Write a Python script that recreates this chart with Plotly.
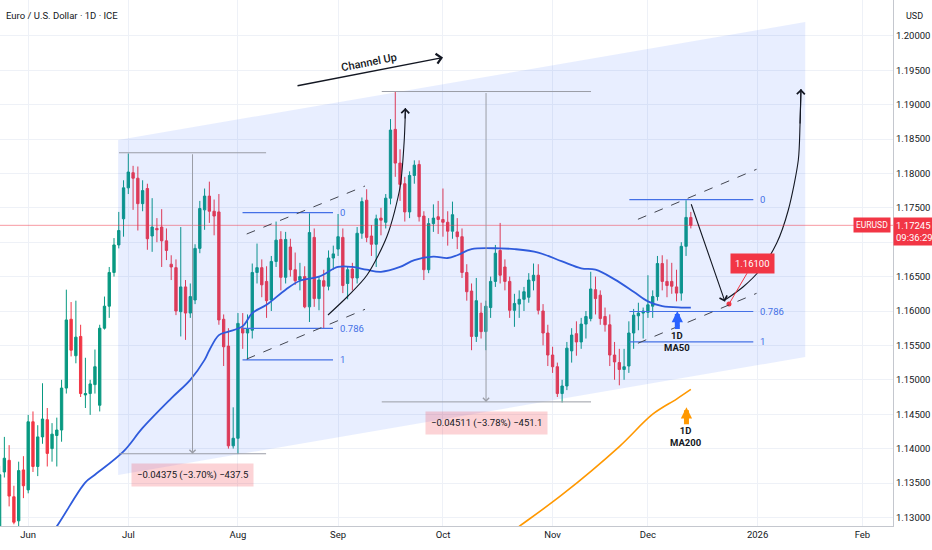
import plotly.graph_objects as go

# ---------------- data ----------------
dates = ["2025-05-23","2025-05-26","2025-05-27","2025-05-28","2025-05-29","2025-05-30",
         "2025-06-02","2025-06-03","2025-06-04","2025-06-05","2025-06-06","2025-06-09","2025-06-10",
         "2025-06-11","2025-06-12","2025-06-13","2025-06-16","2025-06-17","2025-06-18","2025-06-19",
         "2025-06-20","2025-06-23","2025-06-24","2025-06-25","2025-06-26","2025-06-27","2025-06-30",
         "2025-07-01","2025-07-02","2025-07-03","2025-07-04","2025-07-07","2025-07-08","2025-07-09",
         "2025-07-10","2025-07-11","2025-07-14","2025-07-15","2025-07-16","2025-07-17","2025-07-18",
         "2025-07-21","2025-07-22","2025-07-23","2025-07-24","2025-07-25","2025-07-28","2025-07-29",
         "2025-07-30","2025-07-31","2025-08-01","2025-08-04","2025-08-05","2025-08-06","2025-08-07",
         "2025-08-08","2025-08-11","2025-08-12","2025-08-13","2025-08-14","2025-08-15","2025-08-18",
         "2025-08-19","2025-08-20","2025-08-21","2025-08-22","2025-08-25","2025-08-26","2025-08-27",
         "2025-08-28","2025-08-29","2025-09-01","2025-09-02","2025-09-03","2025-09-04","2025-09-05",
         "2025-09-08","2025-09-09","2025-09-10","2025-09-11","2025-09-12","2025-09-15","2025-09-16",
         "2025-09-17","2025-09-18","2025-09-19","2025-09-22","2025-09-23","2025-09-24","2025-09-25",
         "2025-09-26","2025-09-29","2025-09-30","2025-10-01","2025-10-02","2025-10-03","2025-10-06",
         "2025-10-07","2025-10-08","2025-10-09","2025-10-10","2025-10-13","2025-10-14","2025-10-15",
         "2025-10-16","2025-10-17","2025-10-20","2025-10-21","2025-10-22","2025-10-23","2025-10-24",
         "2025-10-27","2025-10-28","2025-10-29","2025-10-30","2025-10-31","2025-11-03","2025-11-04",
         "2025-11-05","2025-11-06","2025-11-07","2025-11-10","2025-11-11","2025-11-12","2025-11-13",
         "2025-11-14","2025-11-17","2025-11-18","2025-11-19","2025-11-20","2025-11-21","2025-11-24",
         "2025-11-25","2025-11-26","2025-11-27","2025-11-28","2025-12-01","2025-12-02","2025-12-03",
         "2025-12-04","2025-12-05","2025-12-08","2025-12-09","2025-12-10","2025-12-11","2025-12-12"]

opens = [1.1280,1.1366,1.1383,1.1330,1.1295,1.1369,
         1.1340,1.1439,1.1374,1.1417,1.1442,1.1400,1.1419,
         1.1427,1.1488,1.1588,1.1535,1.1563,1.1478,1.1480,
         1.1493,1.1463,1.1575,1.1607,1.1656,1.1696,1.1734,
         1.1779,1.1801,1.1793,1.1756,1.1778,1.1709,1.1720,
         1.1722,1.1702,1.1668,1.1663,1.1599,1.1635,1.1597,
         1.1616,1.1691,1.1747,1.1767,1.1745,1.1744,1.1588,
         1.1549,1.1404,1.1415,1.1575,1.1568,1.1572,1.1656,
         1.1663,1.1643,1.1616,1.1672,1.1704,1.1649,1.1693,
         1.1660,1.1645,1.1650,1.1606,1.1707,1.1618,1.1644,
         1.1636,1.1677,1.1690,1.1707,1.1640,1.1661,1.1648,
         1.1713,1.1761,1.1709,1.1697,1.1735,1.1729,1.1764,
         1.1864,1.1815,1.1785,1.1744,1.1797,1.1813,1.1738,
         1.1660,1.1727,1.1737,1.1733,1.1729,1.1716,1.1715,
         1.1708,1.1656,1.1629,1.1563,1.1597,1.1570,1.1605,
         1.1643,1.1688,1.1664,1.1643,1.1601,1.1610,1.1617,
         1.1620,1.1644,1.1652,1.1600,1.1568,1.1536,1.1519,
         1.1480,1.1491,1.1542,1.1567,1.1555,1.1581,1.1589,
         1.1631,1.1623,1.1592,1.1580,1.1536,1.1525,1.1515,
         1.1520,1.1568,1.1593,1.1597,1.1598,1.1607,1.1621,
         1.1669,1.1643,1.1643,1.1635,1.1626,1.1694,1.1736]

highs = [1.1375,1.1417,1.1405,1.1346,1.1381,1.1389,
         1.1449,1.1454,1.1434,1.1495,1.1459,1.1437,1.1445,
         1.1500,1.1631,1.1613,1.1615,1.1580,1.1532,1.1500,
         1.1544,1.1580,1.1621,1.1664,1.1706,1.1744,1.1790,
         1.1829,1.1811,1.1810,1.1790,1.1785,1.1764,1.1735,
         1.1748,1.1720,1.1681,1.1675,1.1722,1.1645,1.1640,
         1.1697,1.1760,1.1778,1.1788,1.1762,1.1770,1.1595,
         1.1575,1.1460,1.1597,1.1597,1.1595,1.1669,1.1698,
         1.1675,1.1665,1.1680,1.1730,1.1716,1.1715,1.1705,
         1.1685,1.1670,1.1665,1.1742,1.1720,1.1650,1.1660,
         1.1688,1.1695,1.1741,1.1720,1.1665,1.1670,1.1722,
         1.1765,1.1777,1.1725,1.1740,1.1750,1.1770,1.1879,
         1.1919,1.1835,1.1795,1.1803,1.1819,1.1819,1.1745,
         1.1735,1.1755,1.1760,1.1778,1.1745,1.1759,1.1735,
         1.1720,1.1668,1.1640,1.1648,1.1612,1.1615,1.1650,
         1.1696,1.1728,1.1675,1.1650,1.1625,1.1630,1.1635,
         1.1655,1.1669,1.1668,1.1610,1.1580,1.1548,1.1525,
         1.1500,1.1555,1.1575,1.1585,1.1590,1.1600,1.1657,
         1.1650,1.1630,1.1605,1.1595,1.1555,1.1545,1.1545,
         1.1585,1.1603,1.1612,1.1605,1.1652,1.1630,1.1680,
         1.1681,1.1675,1.1670,1.1660,1.1700,1.1761,1.1744]

lows = [1.1272,1.1358,1.1316,1.1290,1.1211,1.1328,
        1.1335,1.1366,1.1360,1.1407,1.1374,1.1381,1.1374,
        1.1410,1.1480,1.1534,1.1524,1.1475,1.1459,1.1449,
        1.1480,1.1454,1.1573,1.1590,1.1650,1.1691,1.1708,
        1.1770,1.1747,1.1717,1.1745,1.1689,1.1686,1.1700,
        1.1664,1.1674,1.1645,1.1594,1.1563,1.1558,1.1590,
        1.1610,1.1684,1.1718,1.1728,1.1710,1.1580,1.1520,
        1.1400,1.1400,1.1392,1.1545,1.1529,1.1560,1.1640,
        1.1620,1.1590,1.1600,1.1664,1.1630,1.1640,1.1650,
        1.1638,1.1630,1.1604,1.1584,1.1606,1.1601,1.1575,
        1.1630,1.1660,1.1680,1.1626,1.1617,1.1630,1.1640,
        1.1705,1.1700,1.1680,1.1664,1.1710,1.1720,1.1755,
        1.1795,1.1760,1.1730,1.1735,1.1785,1.1730,1.1645,
        1.1655,1.1715,1.1712,1.1708,1.1695,1.1705,1.1690,
        1.1648,1.1615,1.1543,1.1555,1.1560,1.1543,1.1590,
        1.1635,1.1640,1.1630,1.1590,1.1577,1.1590,1.1600,
        1.1612,1.1630,1.1595,1.1550,1.1520,1.1510,1.1475,
        1.1467,1.1485,1.1525,1.1535,1.1545,1.1560,1.1585,
        1.1595,1.1580,1.1570,1.1520,1.1500,1.1492,1.1500,
        1.1510,1.1545,1.1572,1.1560,1.1590,1.1590,1.1615,
        1.1630,1.1620,1.1625,1.1614,1.1615,1.1680,1.1720]

closes = [1.1362,1.1386,1.1331,1.1293,1.1368,1.1346,
          1.1439,1.1374,1.1417,1.1443,1.1393,1.1421,1.1427,
          1.1488,1.1587,1.1543,1.1562,1.1480,1.1480,1.1494,
          1.1519,1.1575,1.1607,1.1656,1.1696,1.1717,1.1779,
          1.1802,1.1793,1.1756,1.1775,1.1705,1.1722,1.1718,
          1.1702,1.1688,1.1664,1.1600,1.1635,1.1597,1.1621,
          1.1691,1.1749,1.1767,1.1745,1.1738,1.1587,1.1548,
          1.1404,1.1415,1.1582,1.1568,1.1574,1.1656,1.1663,
          1.1638,1.1615,1.1672,1.1703,1.1649,1.1704,1.1660,
          1.1644,1.1650,1.1606,1.1714,1.1618,1.1645,1.1636,
          1.1677,1.1683,1.1708,1.1637,1.1660,1.1648,1.1713,
          1.1759,1.1707,1.1697,1.1734,1.1732,1.1764,1.1863,
          1.1815,1.1784,1.1744,1.1797,1.1812,1.1737,1.1660,
          1.1727,1.1735,1.1733,1.1729,1.1716,1.1740,1.1708,
          1.1656,1.1628,1.1563,1.1615,1.1570,1.1607,1.1643,
          1.1684,1.1652,1.1643,1.1601,1.1611,1.1617,1.1628,
          1.1645,1.1652,1.1601,1.1568,1.1536,1.1519,1.1480,
          1.1491,1.1546,1.1565,1.1555,1.1581,1.1592,1.1632,
          1.1618,1.1589,1.1580,1.1536,1.1526,1.1515,1.1519,
          1.1568,1.1594,1.1597,1.1600,1.1609,1.1621,1.1669,
          1.1643,1.1637,1.1636,1.1626,1.1694,1.1736,1.17245]

ma50_dates = ["2025-06-04","2025-06-10","2025-06-18","2025-06-20","2025-06-30","2025-07-04",
              "2025-07-14","2025-07-18","2025-07-23","2025-07-24","2025-07-28","2025-07-30",
              "2025-08-04","2025-08-06","2025-08-11","2025-08-15","2025-08-20","2025-08-26",
              "2025-09-01","2025-09-04","2025-09-09","2025-09-12","2025-09-18","2025-09-23",
              "2025-09-29","2025-10-02","2025-10-06","2025-10-09","2025-10-17","2025-10-22",
              "2025-10-29","2025-11-05","2025-11-11","2025-11-14","2025-11-20","2025-11-26",
              "2025-12-01","2025-12-04","2025-12-10","2025-12-12"]
ma50_values = [1.1250,1.1287,1.1351,1.1362,1.1396,1.1430,
               1.1473,1.1500,1.1529,1.1543,1.1565,1.1570,
               1.1578,1.1597,1.1609,1.1631,1.1644,1.1650,
               1.1664,1.1664,1.1660,1.1657,1.1664,1.1674,
               1.1679,1.1677,1.1681,1.1690,1.1691,1.1690,
               1.1685,1.1672,1.1662,1.1660,1.1646,1.1628,
               1.1614,1.1607,1.1605,1.1605]

ma200_dates = ["2025-10-20","2025-10-23","2025-11-05","2025-11-21","2025-12-02","2025-12-09","2025-12-12"]
ma200_values = [1.1272,1.1287,1.1333,1.1403,1.1450,1.1472,1.1486]

month_ticks = ["2025-06-02","2025-07-01","2025-08-01","2025-09-01","2025-10-01",
               "2025-11-03","2025-12-01","2026-01-01","2026-02-02"]
month_labels = ["Jun","Jul","Aug","Sep","Oct","Nov","Dec","2026","Feb"]
price_ticks = [1.130,1.135,1.140,1.145,1.150,1.155,1.160,1.165,
               1.170,1.175,1.180,1.185,1.190,1.195,1.200]
# the 1.17000 label sits under the live-price badge in the reference
price_labels = ["1.13000","1.13500","1.14000","1.14500","1.15000","1.15500","1.16000","1.16500",
                "","1.17500","1.18000","1.18500","1.19000","1.19500","1.20000"]

title_text = "Euro / U.S. Dollar · 1D · ICE"
symbol = "EURUSD"
last_price = 1.17245
countdown = "09:36:29"

# drawings (anchors in date / price)
channel_x = ["2025-06-26 20:40", "2026-01-15 00:00"]
channel_upper = [1.18486, 1.20201]
channel_lower = [1.13616, 1.15331]

measure_x0 = ["2025-06-27 01:00", "2025-09-12 04:00"]
measure_x1 = ["2025-08-08 21:36", "2025-11-13 01:30"]
measure_xmid = ["2025-07-18 11:15", "2025-10-14 01:00"]
measure_top = [1.18300, 1.19190]
measure_bottom = [1.13925, 1.14679]
measure_text = ["\u22120.04375 (\u22123.70%) \u2212437.5", "\u22120.04511 (\u22123.78%) \u2212451.1"]

fib_x0 = ["2025-08-01 23:00", "2025-11-25 02:30"]
fib_x1 = ["2025-08-28 22:30", "2025-12-31 02:30"]
fib_p0 = [1.1743, 1.1762]
fib_p1 = [1.1529, 1.1555]
fib_ratios = [0, 0.786, 1]

dash_x0 = ["2025-08-04 20:00", "2025-11-26 21:40"]
dash_x1 = ["2025-09-08 15:40", "2025-12-31 19:00"]
dash_up = [(1.17119, 1.17817), (1.17333, 1.18060)]
dash_lo = [(1.15302, 1.16025), (1.15531, 1.16257)]

curve1_x = ["2025-08-27 21:20","2025-09-03 02:10","2025-09-09 02:00","2025-09-15 06:45",
            "2025-09-18 00:15","2025-09-18 20:20","2025-09-19 01:30","2025-09-19 02:50"]
curve1_y = [1.15942,1.16218,1.16523,1.17090,1.17802,1.18442,1.18776,1.18951]
curve2_x = ["2025-12-23 09:00","2025-12-29 00:00","2026-01-01 12:00","2026-01-07 00:00",
            "2026-01-09 10:50","2026-01-13 13:10","2026-01-13 21:40","2026-01-14 02:30"]
curve2_y = [1.16170,1.16353,1.16596,1.16984,1.17468,1.18195,1.18703,1.19227]

drop_tail = ("2025-12-11 23:30", 1.17574)
drop_head = ("2025-12-23 04:00", 1.16135)
target_point = ("2025-12-24 00:00", 1.16100)
target_text = "1.16100"

channel_arrow_tail = ("2025-08-19 04:20", 1.19270)
channel_arrow_head = ("2025-10-01 00:30", 1.19685)
channel_label = ("2025-09-09 12:00", 1.19605, "Channel Up")

ma50_marker = ("2025-12-09 04:00", 1.16000, "<b>1D<br>MA50</b>")
ma200_marker = ("2025-12-11 02:00", 1.14600, "<b>1D<br>MA200</b>")

# ---------------- styles ----------------
GREEN = "#089981"
RED = "#f23645"
BLUE = "#2f5bdc"
FIBBLUE = "#4470e6"
ORANGE = "#ff9800"
TXT = "#131722"
GRID = "#eef1f7"
GRAYLINE = "#9a9da6"
FONT = "Roboto"

fig = go.Figure()

# channel fill
fig.add_trace(go.Scatter(
    x=[channel_x[0], channel_x[1], channel_x[1], channel_x[0], channel_x[0]],
    y=[channel_upper[0], channel_upper[1], channel_lower[1], channel_lower[0], channel_upper[0]],
    fill="toself", fillcolor="rgba(41,98,255,0.11)", line=dict(width=0),
    mode="lines", hoverinfo="skip"))

# moving averages
fig.add_trace(go.Scatter(x=ma200_dates, y=ma200_values, mode="lines",
                         line=dict(color=ORANGE, width=1.6, shape="spline"), hoverinfo="skip"))
fig.add_trace(go.Scatter(x=ma50_dates, y=ma50_values, mode="lines",
                         line=dict(color=BLUE, width=1.8, shape="spline"), hoverinfo="skip"))

# candles
fig.add_trace(go.Candlestick(
    x=dates, open=opens, high=highs, low=lows, close=closes,
    increasing=dict(line=dict(color=GREEN, width=1), fillcolor=GREEN),
    decreasing=dict(line=dict(color=RED, width=1), fillcolor=RED),
    whiskerwidth=0, hoverinfo="skip"))

# curved arrows
for cx, cy in [(curve1_x, curve1_y), (curve2_x, curve2_y)]:
    fig.add_trace(go.Scatter(x=cx, y=cy, mode="lines",
                             line=dict(color=TXT, width=1.1, shape="spline", smoothing=0.8),
                             hoverinfo="skip"))

# target dot
fig.add_trace(go.Scatter(x=[target_point[0]], y=[target_point[1]], mode="markers",
                         marker=dict(color=RED, size=5), hoverinfo="skip"))

shapes = []
annotations = []

# current price line
shapes.append(dict(type="line", xref="paper", x0=0, x1=1, yref="y", y0=last_price, y1=last_price,
                   line=dict(color="rgba(242,54,69,0.5)", width=1)))

# price range measurements
for i in range(2):
    for p in (measure_top[i], measure_bottom[i]):
        shapes.append(dict(type="line", x0=measure_x0[i], x1=measure_x1[i], y0=p, y1=p,
                           line=dict(color=GRAYLINE, width=1)))
    annotations.append(dict(x=measure_xmid[i], y=measure_bottom[i], ax=measure_xmid[i], ay=measure_top[i],
                            axref="x", ayref="y", showarrow=True, arrowhead=4, arrowsize=1.2,
                            arrowwidth=1, arrowcolor=GRAYLINE, text=""))
    annotations.append(dict(x=measure_xmid[i], y=measure_bottom[i], yanchor="top", yshift=-9,
                            showarrow=False, text=measure_text[i],
                            font=dict(size=9.5, color=TXT, family=FONT),
                            bgcolor="rgba(242,54,69,0.22)", borderpad=5))

# fib retracements
for i in range(2):
    for r in fib_ratios:
        p = fib_p0[i] - r * (fib_p0[i] - fib_p1[i])
        shapes.append(dict(type="line", x0=fib_x0[i], x1=fib_x1[i], y0=p, y1=p,
                           line=dict(color=FIBBLUE, width=1.2)))
        annotations.append(dict(x=fib_x1[i], y=p, xanchor="left", xshift=5, showarrow=False,
                                text=("%g" % r), font=dict(size=9.5, color=FIBBLUE, family=FONT)))

# dashed channels
for i in range(2):
    for (a, b) in (dash_up[i], dash_lo[i]):
        shapes.append(dict(type="line", x0=dash_x0[i], x1=dash_x1[i], y0=a, y1=b,
                           line=dict(color="#434651", width=1, dash="dash")))

# arrowheads at curve ends
for cx, cy in [(curve1_x, curve1_y), (curve2_x, curve2_y)]:
    annotations.append(dict(x=cx[-1], y=cy[-1], ax=cx[-2], ay=cy[-2], axref="x", ayref="y",
                            showarrow=True, arrowhead=4, arrowsize=1.4, arrowwidth=1.1,
                            arrowcolor=TXT, text=""))

# straight drop arrow
annotations.append(dict(x=drop_head[0], y=drop_head[1], ax=drop_tail[0], ay=drop_tail[1],
                        axref="x", ayref="y", showarrow=True, arrowhead=4, arrowsize=1.4,
                        arrowwidth=1.1, arrowcolor=TXT, text=""))

# target label
annotations.append(dict(x=target_point[0], y=target_point[1], ax=24, ay=-41, showarrow=True,
                        arrowhead=0, arrowwidth=1, arrowcolor=RED, text=target_text,
                        font=dict(size=9.5, color="white", family=FONT), bgcolor=RED, borderpad=4))

# Channel Up arrow & text
annotations.append(dict(x=channel_arrow_head[0], y=channel_arrow_head[1],
                        ax=channel_arrow_tail[0], ay=channel_arrow_tail[1], axref="x", ayref="y",
                        showarrow=True, arrowhead=4, arrowsize=1.4, arrowwidth=1.4,
                        arrowcolor=TXT, text=""))
annotations.append(dict(x=channel_label[0], y=channel_label[1], text=channel_label[2],
                        showarrow=False, textangle=-11,
                        font=dict(size=11, color=TXT, family=FONT, weight=500)))

# MA markers
for (mx, my, mt), col, ay in [(ma50_marker, "#2962ff", 30), (ma200_marker, ORANGE, 29)]:
    annotations.append(dict(x=mx, y=my, ax=0, ay=ay, showarrow=True, arrowhead=2,
                            arrowsize=0.45, arrowwidth=5, arrowcolor=col, text=mt,
                            font=dict(size=9.5, color=TXT, family=FONT), borderpad=0))

# title, currency, price labels
annotations.append(dict(xref="paper", yref="paper", x=0, y=1, xanchor="left", yanchor="top",
                        xshift=4, yshift=-8, showarrow=False, text=title_text,
                        font=dict(size=9.5, color=TXT, family=FONT)))
annotations.append(dict(xref="paper", yref="paper", x=1, y=1, xanchor="left", yanchor="top",
                        xshift=11, yshift=-9, showarrow=False, text="USD",
                        font=dict(size=9, color=TXT, family=FONT)))
annotations.append(dict(xref="paper", x=1, xanchor="right", xshift=-2, y=last_price, showarrow=False,
                        text=symbol, bgcolor=RED, borderpad=2,
                        font=dict(size=8.5, color="white", family=FONT)))
annotations.append(dict(xref="paper", x=1, xanchor="left", xshift=0, y=last_price, yanchor="top",
                        yshift=8, showarrow=False, text=f"{last_price:.5f}<br>{countdown}",
                        bgcolor=RED, borderpad=2, align="left",
                        font=dict(size=9.5, color="white", family=FONT)))

fig.update_layout(
    width=932, height=550,
    margin=dict(l=0, r=39, t=0, b=24),
    paper_bgcolor="white", plot_bgcolor="white",
    showlegend=False, hovermode=False,
    font=dict(family=FONT, size=9.5, color=TXT),
    shapes=shapes, annotations=annotations,
    xaxis=dict(type="date", range=["2025-05-23 02:01", "2026-02-10 09:50"],
               rangebreaks=[dict(bounds=["sat", "mon"])],
               tickvals=month_ticks, ticktext=month_labels,
               showgrid=True, gridcolor=GRID, zeroline=False,
               showline=True, linecolor="#c4c7ce", ticks="",
               tickfont=dict(size=9.5, color=TXT), rangeslider=dict(visible=False),
               automargin=False),
    yaxis=dict(side="right", range=[1.12875, 1.205203], tickvals=price_ticks, ticktext=price_labels,
               showgrid=True, gridcolor=GRID, zeroline=False,
               showline=True, linecolor="#c4c7ce", ticks="",
               tickfont=dict(size=9.5, color=TXT), automargin=False),
)

fig.write_html("out.html", include_plotlyjs=True, config={"displayModeBar": False},
               post_script="document.body.style.margin='0';")
